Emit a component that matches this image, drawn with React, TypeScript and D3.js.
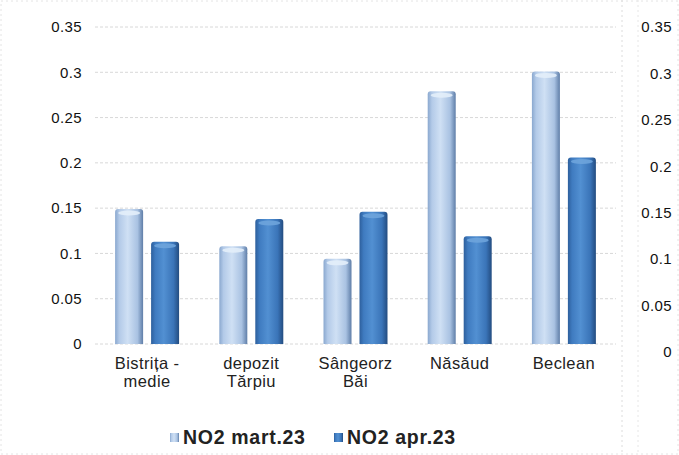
import React from "react";
import * as d3 from "d3";

const categories = [["Bistrița -", "medie"], ["depozit", "Tărpiu"], ["Sângeorz", "Băi"], ["Năsăud"], ["Beclean"]];
const seriesNames = ["NO2 mart.23", "NO2 apr.23"];
const mart = [0.149, 0.108, 0.094, 0.279, 0.301];
const apr = [0.113, 0.138, 0.146, 0.119, 0.206];
const yTicks = [0, 0.05, 0.1, 0.15, 0.2, 0.25, 0.3, 0.35];
const yTickLabels = ["0", "0.05", "0.1", "0.15", "0.2", "0.25", "0.3", "0.35"];

export default function App() {
  const W = 679, H = 455;
  const x0 = d3.scaleBand().domain(categories.map((_, i) => String(i))).range([95, 616]).paddingInner(0.386).paddingOuter(0.193);
  const x1 = d3.scaleBand().domain(["0", "1"]).range([0, x0.bandwidth()]).paddingInner(0.222);
  const y = d3.scaleLinear().domain([0, 0.35]).range([344, 27]);
  const y2 = d3.scaleLinear().domain([0, 0.35]).range([352, 27]);
  const font = "'Liberation Sans', Arial, sans-serif";
  const series = [mart, apr];
  return (
    <svg width={W} height={H} style={{ position: "absolute", left: 0, top: 0, background: "#fff" }}>
      <defs>
        <linearGradient id="g0" x1="0" x2="1" y1="0" y2="0">
          <stop offset="0" stopColor="#8aa8cf" />
          <stop offset="0.15" stopColor="#b3cae8" />
          <stop offset="0.45" stopColor="#cfe0f4" />
          <stop offset="0.8" stopColor="#a9c2e2" />
          <stop offset="1" stopColor="#5f7ea8" />
        </linearGradient>
        <linearGradient id="g1" x1="0" x2="1" y1="0" y2="0">
          <stop offset="0" stopColor="#2d5f9c" />
          <stop offset="0.15" stopColor="#3f7bc0" />
          <stop offset="0.45" stopColor="#5290d2" />
          <stop offset="0.8" stopColor="#3a74b8" />
          <stop offset="1" stopColor="#234c80" />
        </linearGradient>
      </defs>
      <rect x={1} y={1} width={677} height={453} fill="none" stroke="#e4e4e4" strokeDasharray="2,3" />
      <line x1={622} x2={622} y1={0} y2={H} stroke="#dcdcdc" strokeDasharray="2,3" />
      <line x1={638} x2={638} y1={0} y2={H} stroke="#e6e6e6" strokeDasharray="2,3" />
      {yTicks.map((t, i) => (
        <g key={i}>
          <line x1={95} x2={616} y1={y(t)} y2={y(t)} stroke="#d8d8d8" strokeDasharray="3,2" />
          <text x={82} y={y(t)} dy="0.35em" textAnchor="end" fontFamily={font} fontSize={15} letterSpacing={0.4} fill="#111">{yTickLabels[i]}</text>
          <text x={672} y={y2(t)} dy="0.35em" textAnchor="end" fontFamily={font} fontSize={15} letterSpacing={0.4} fill="#111">{yTickLabels[i]}</text>
        </g>
      ))}
      {categories.map((c, i) => (
        <g key={i} transform={`translate(${x0(String(i))},0)`}>
          {series.map((s, j) => {
            const bx = x1(String(j))!;
            const bw = x1.bandwidth();
            const top = y(s[i]);
            return (
              <g key={j}>
                <path d={`M${bx},344 V${top + 3} Q${bx},${top} ${bx + 3},${top} H${bx + bw - 3} Q${bx + bw},${top} ${bx + bw},${top + 3} V344 Z`} fill={`url(#g${j})`} />
                <ellipse cx={bx + bw / 2} cy={top + 4} rx={bw / 2 - 3} ry={2.5} fill={j === 0 ? "#e3eefa" : "#6ea4dc"} opacity={0.9} />
              </g>
            );
          })}
          {c.map((line, k) => (
            <text key={k} x={x0.bandwidth() / 2} y={369 + k * 18} textAnchor="middle" fontFamily={font} fontSize={16.5} letterSpacing={0.4} fill="#222">{line}</text>
          ))}
        </g>
      ))}
      {seriesNames.map((n, j) => (
        <g key={j} transform={`translate(${j === 0 ? 170 : 334},437)`}>
          <rect x={0} y={-4} width={9} height={9} fill={`url(#g${j})`} />
          <text x={13} y={0} dy="0.36em" fontFamily={font} fontSize={19.5} fontWeight="bold" letterSpacing={0.7} fill="#222">{n}</text>
        </g>
      ))}
    </svg>
  );
}
